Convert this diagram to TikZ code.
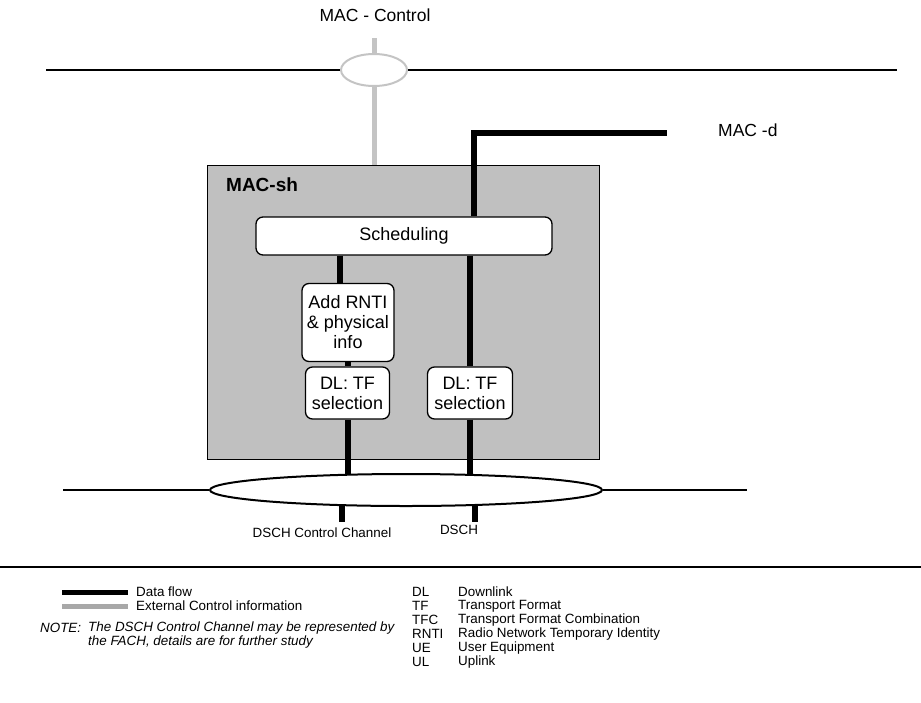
\documentclass[tikz,border=0pt]{standalone}
\usepackage{fontspec}
\setmainfont{Liberation Sans}
\usetikzlibrary{shapes.geometric}
\definecolor{boxgray}{HTML}{C0C0C0}
\definecolor{ctrlgray}{HTML}{C4C4C4}
\definecolor{leggray}{HTML}{A8A8A8}
\begin{document}
\begin{tikzpicture}[x=1pt,y=-1pt,
  dataflow/.style={line width=6pt, black, line join=miter},
  ctrlflow/.style={line width=5pt, ctrlgray},
  thinline/.style={line width=2pt, black},
  rbox/.style={draw=black, line width=1.3pt, fill=white, rounded corners=7pt, inner sep=0pt, align=center, font=\fontsize{18}{20}\selectfont},
  small/.style={font=\fontsize{13.4}{14}\selectfont, inner sep=0pt},
  smallit/.style={font=\fontsize{13.4}{14}\selectfont\itshape, inner sep=0pt, anchor=west},
  big/.style={font=\fontsize{17.5}{20}\selectfont, inner sep=0pt}
]
\useasboundingbox (0,0) rectangle (921,702);

% top: MAC - Control
\node[big] (macctrl) at (375,15) {MAC - Control};
\node[ellipse, draw=ctrlgray, line width=2pt, fill=white, minimum width=66pt, minimum height=32pt, inner sep=0pt] (ctrl) at (374,70) {};
\coordinate (tl) at (46,70);
\coordinate (tr) at (897,70);
\coordinate (ctop) at (374,38);
\draw[thinline] (tl) -- (ctrl.west);
\draw[thinline] (ctrl.east) -- (tr);

% MAC-sh box
\node[draw=black, line width=1pt, fill=boxgray, minimum width=392pt, minimum height=294pt, inner sep=0pt] (macsh) at (403.5,312) {};
\node[font=\fontsize{19}{20}\selectfont\bfseries, anchor=west, inner sep=0pt] (machlabel) at (226,185) {MAC-sh};

\draw[ctrlflow] (ctop) -- (ctrl.north);
\draw[ctrlflow] (ctrl.south) -- (ctrl.south |- macsh.north);

% inner boxes
\node[rbox, minimum width=296pt, minimum height=38pt] (sched) at (404,236) {Scheduling};
\node[rbox, minimum width=92pt, minimum height=78pt] (addrnti) at (348,322.5) {Add RNTI\\\& physical\\info};
\node[rbox, minimum width=84pt, minimum height=52pt] (dltfa) at (347.5,393) {DL: TF\\selection};
\node[rbox, minimum width=85pt, minimum height=52pt] (dltfb) at (470,393) {DL: TF\\selection};

% big ellipse
\node[ellipse, draw=black, line width=2pt, fill=white, minimum width=392pt, minimum height=32pt, inner sep=0pt] (bigell) at (406,490) {};
\coordinate (bl) at (63,490);
\coordinate (br) at (747,490);
\draw[thinline] (bl) -- (bigell.west);
\draw[thinline] (bigell.east) -- (br);

% MAC-d
\coordinate (macdcorner) at (474,133);
\coordinate (macdend) at (667,133);
\draw[dataflow] (sched.north -| macdcorner) |- (macdend);
\node[big, anchor=west] (macd) at (718,130) {MAC -d};

% data flow lines
\coordinate (lx) at (340,0);
\draw[dataflow] (sched.south -| lx) -- (addrnti.north -| lx);
\draw[dataflow] (addrnti.south -| dltfa.north) -- (dltfa.north);
\draw[dataflow] (dltfa.south) -- ([yshift=-1pt]dltfa.south |- bigell.north);
\draw[dataflow] (sched.south -| dltfb.north) -- (dltfb.north);
\draw[dataflow] (dltfb.south) -- ([yshift=-1pt]dltfb.south |- bigell.north);

% stubs below ellipse
\coordinate (s1) at (342,522);
\coordinate (s2) at (475,522);
\draw[dataflow] ([yshift=1pt]s1 |- bigell.south) -- (s1);
\draw[dataflow] ([yshift=1pt]s2 |- bigell.south) -- (s2);
\node[small] (dschcc) at (322,533) {DSCH Control Channel};
\node[small] (dsch) at (459,530) {DSCH};

% separator
\coordinate (sepl) at (0,567);
\coordinate (sepr) at (921,567);
\draw[line width=1.5pt] (sepl) -- (sepr);

% legend
\coordinate (la1) at (62,592);
\coordinate (la2) at (128,592);
\coordinate (lb1) at (62,606);
\coordinate (lb2) at (128,606);
\draw[line width=5pt, black] (la1) -- (la2);
\draw[line width=5pt, leggray] (lb1) -- (lb2);
\node[small, anchor=west] (ldf) at (136,592) {Data flow};
\node[small, anchor=west] (lec) at (136,606) {External Control information};

\node[smallit] (note) at (40,628) {NOTE:};
\node[smallit] (note1) at (88,628) {The DSCH Control Channel may be represented by};
\node[smallit] (note2) at (88,642) {the FACH, details are for further study};

% abbreviations
\foreach \y/\ab/\txt [count=\i] in {592/DL/Downlink, 606/TF/Transport Format, 620/TFC/Transport Format Combination, 634/RNTI/Radio Network Temporary Identity, 648/UE/User Equipment, 662/UL/Uplink}{
  \node[small, anchor=west] (ab\i) at (412,\y) {\ab};
  \node[small, anchor=west] (abt\i) at (458,\y) {\txt};
}
\end{tikzpicture}
\end{document}
